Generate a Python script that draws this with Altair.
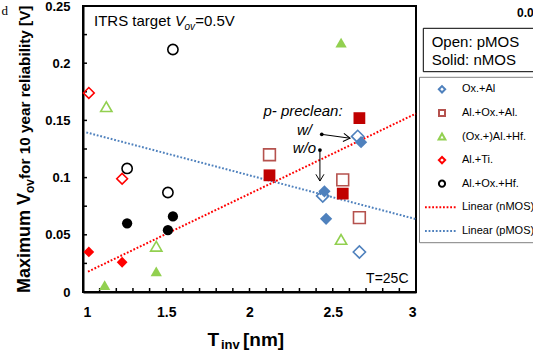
import altair as alt
import pandas as pd

FONT = "Liberation Sans"

# ---------------- data ----------------
series_names = ["Ox.+Al", "Al.+Ox.+Al.", "(Ox.+)Al.+Hf.", "Al.+Ti.", "Al.+Ox.+Hf."]
series_shapes = ["diamond", "square", "triangle-up", "diamond", "circle"]
open_colors = ["#4f81bd", "#b5524e", "#92d050", "#ff0000", "#000000"]
solid_colors = ["#4f81bd", "#c00000", "#92d050", "#ff0000", "#000000"]
series_sizes = [150, 105, 160, 150, 125]

# pMOS (open markers)
pmos_series = ["Ox.+Al", "Ox.+Al", "Ox.+Al",
               "Al.+Ox.+Al.", "Al.+Ox.+Al.", "Al.+Ox.+Al.",
               "(Ox.+)Al.+Hf.", "(Ox.+)Al.+Hf.", "(Ox.+)Al.+Hf.",
               "Al.+Ti.", "Al.+Ti.",
               "Al.+Ox.+Hf.", "Al.+Ox.+Hf.", "Al.+Ox.+Hf."]
pmos_tinv = [2.65, 2.44, 2.66, 2.12, 2.56, 2.66, 1.14, 1.44, 2.55, 1.035, 1.235, 1.54, 1.265, 1.51]
pmos_vov = [0.136, 0.084, 0.035, 0.120, 0.098, 0.065, 0.162, 0.040, 0.046, 0.174, 0.099, 0.212, 0.108, 0.087]

# nMOS (solid markers)
nmos_series = ["Ox.+Al", "Ox.+Al", "Ox.+Al",
               "Al.+Ox.+Al.", "Al.+Ox.+Al.", "Al.+Ox.+Al.",
               "(Ox.+)Al.+Hf.", "(Ox.+)Al.+Hf.", "(Ox.+)Al.+Hf.",
               "Al.+Ti.", "Al.+Ti.",
               "Al.+Ox.+Hf.", "Al.+Ox.+Hf.", "Al.+Ox.+Hf."]
nmos_tinv = [2.67, 2.45, 2.46, 2.12, 2.56, 2.66, 2.55, 1.44, 1.13, 1.035, 1.235, 1.265, 1.54, 1.51]
nmos_vov = [0.131, 0.088, 0.064, 0.102, 0.086, 0.152, 0.218, 0.018, 0.006, 0.035, 0.026, 0.060, 0.066, 0.054]

# linear trend lines (end points)
trend_n_tinv = [1.03, 3.0]
trend_n_vov = [0.0178, 0.156]
trend_p_tinv = [1.02, 3.0]
trend_p_vov = [0.1395, 0.0637]

# annotation arrows (p- preclean w/ and w/o)
arrow_tinv = [2.434, 2.423]
arrow_vov = [0.1378, 0.1241]
arrow_tinv2 = [2.604, 2.423]
arrow_vov2 = [0.1344, 0.0970]
arrow_angle = [7, 90]

# axis ticks and labels
x_tick_values = [1.0, 1.1, 1.2, 1.3, 1.4, 1.5, 1.6, 1.7, 1.8, 1.9, 2.0,
                 2.1, 2.2, 2.3, 2.4, 2.5, 2.6, 2.7, 2.8, 2.9, 3.0]
x_label_values = [1, 1.5, 2, 2.5, 3]
y_tick_values = [0, 0.025, 0.05, 0.075, 0.1, 0.125, 0.15, 0.175, 0.2, 0.225, 0.25]
y_label_values = [0, 0.05, 0.1, 0.15, 0.2, 0.25]

legend_labels = series_names
line_legend_labels = ["Linear (nMOS)", "Linear (pMOS)"]
line_legend_colors = ["#ff0000", "#4f81bd"]

# ---------------- layout ----------------
LEFT, TOP = 83, 6
W, H = 333, 286

xs = alt.Scale(domain=[1, 3], nice=False, zero=False)
ys = alt.Scale(domain=[0, 0.25], nice=False)

x_axis = alt.Axis(values=x_label_values, format="~g", title=None, ticks=False, grid=False,
                  labelFont=FONT, labelFontSize=14, labelFontWeight="bold", labelColor="black",
                  labelPadding=13, domainColor="black", domainWidth=2)
y_axis = alt.Axis(values=y_label_values, format="~g", title=None, ticks=False, grid=False,
                  labelFont=FONT, labelFontSize=13, labelFontWeight="bold", labelColor="black",
                  labelPadding=13, domainColor="black", domainWidth=2)

X = lambda f: alt.X(f + ":Q", scale=xs, axis=x_axis)
Y = lambda f: alt.Y(f + ":Q", scale=ys, axis=y_axis)

shape_enc = alt.Shape("series:N", scale=alt.Scale(domain=series_names, range=series_shapes), legend=None)
size_enc = alt.Size("series:N", scale=alt.Scale(domain=series_names, range=series_sizes), legend=None)

pdf = pd.DataFrame({"series": pmos_series, "tinv": pmos_tinv, "vov": pmos_vov})
ndf = pd.DataFrame({"series": nmos_series, "tinv": nmos_tinv, "vov": nmos_vov})

solid = alt.Chart(ndf).mark_point(filled=True, opacity=1, strokeWidth=0).encode(
    x=X("tinv"), y=Y("vov"), shape=shape_enc, size=size_enc,
    color=alt.Color("series:N", scale=alt.Scale(domain=series_names, range=solid_colors), legend=None),
)
opened = alt.Chart(pdf).mark_point(filled=False, opacity=1, strokeWidth=1.6).encode(
    x=X("tinv"), y=Y("vov"), shape=shape_enc, size=size_enc,
    stroke=alt.Stroke("series:N", scale=alt.Scale(domain=series_names, range=open_colors), legend=None),
)

tn = pd.DataFrame({"tinv": trend_n_tinv, "vov": trend_n_vov})
tp = pd.DataFrame({"tinv": trend_p_tinv, "vov": trend_p_vov})
line_n = alt.Chart(tn).mark_line(color="#ff0000", strokeWidth=2, strokeDash=[1.8, 1.8]).encode(x=X("tinv"), y=Y("vov"))
line_p = alt.Chart(tp).mark_line(color="#4f81bd", strokeWidth=2, strokeDash=[1.8, 1.8]).encode(x=X("tinv"), y=Y("vov"))

xt = pd.DataFrame({"tinv": x_tick_values})
yt = pd.DataFrame({"vov": y_tick_values})
xticks = alt.Chart(xt).mark_rule(color="black", strokeWidth=1.5).encode(
    x=X("tinv"), y=alt.value(H), y2=alt.value(H - 4))
yticks = alt.Chart(yt).mark_rule(color="black", strokeWidth=1.5).encode(
    y=Y("vov"), x=alt.value(0), x2=alt.value(4))

adf = pd.DataFrame({"tinv": arrow_tinv, "vov": arrow_vov, "tinv2": arrow_tinv2,
                    "vov2": arrow_vov2, "ang": arrow_angle})
arrows = alt.Chart(adf).mark_rule(color="black", strokeWidth=1).encode(
    x=X("tinv"), y=Y("vov"), x2="tinv2:Q", y2="vov2:Q")
dots = alt.Chart(adf).mark_circle(color="black", size=14, opacity=1).encode(x=X("tinv"), y=Y("vov"))
heads = alt.Chart(adf).mark_point(shape="M-1,-0.6L0,0L-1,0.6", filled=False, color="black",
                                  strokeWidth=1, size=180, opacity=1).encode(
    x=alt.X("tinv2:Q", scale=xs, axis=x_axis), y=alt.Y("vov2:Q", scale=ys, axis=y_axis),
    angle=alt.Angle("ang:Q", scale=None))

one = pd.DataFrame({"d": [0]})


def txt(s, px, py, size, weight="normal", style="normal", align="left",
        baseline="alphabetic", angle=0, font=FONT, color="black"):
    mk = dict(text=s, fontSize=size, fontWeight=weight, fontStyle=style, align=align,
              baseline=baseline, font=font, color=color)
    if angle:
        mk["angle"] = angle
    return alt.Chart(one).mark_text(**mk).encode(x=alt.value(px - LEFT), y=alt.value(py - TOP))


def rect(x1, y1, x2, y2, stroke):
    return alt.Chart(one).mark_rect(fill="white", stroke=stroke, strokeWidth=1).encode(
        x=alt.value(x1 - LEFT), x2=alt.value(x2 - LEFT), y=alt.value(y1 - TOP), y2=alt.value(y2 - TOP))


texts = [
    # ITRS target
    txt("ITRS target ", 94, 25.7, 15),
    txt("V", 174.9, 25.7, 15, style="italic"),
    txt("ov", 184.5, 29.5, 10, style="italic"),
    txt("=0.5V", 195.2, 25.7, 15),
    # T=25C
    txt("T=25C", 408.5, 283.3, 14, align="right"),
    # annotation
    txt("p- preclean:", 303, 116, 15, style="italic", align="center"),
    txt("w/", 304.5, 134.5, 15, style="italic", align="center"),
    txt("w/o", 304.5, 152.5, 15, style="italic", align="center"),
    # x title
    txt("T", 207.5, 346, 19, weight="bold"),
    txt("inv", 221, 349, 13, weight="bold"),
    txt("[nm]", 243, 346, 19, weight="bold"),
    # y title (rotated)
    txt("Maximum V", 29.5, 293, 18, weight="bold", angle=270),
    txt("ov", 33.5, 193, 12, weight="bold", angle=270),
    txt(" for 10 year reliability [V]", 29.5, 179, 15.3, weight="bold", angle=270),
    # cropped neighbours
    txt("d", 8, 15, 13, font="Liberation Serif", align="right"),
    txt("0.05", 517, 17, 12, weight="bold"),
]

legend_layers = [
    rect(423.3, 28.3, 600, 71.7, "black"),
    txt("Open: pMOS", 431.7, 47, 15),
    txt("Solid: nMOS", 431.7, 65, 15),
    rect(419.5, 77.3, 600, 242.7, "#808080"),
]
leg_step = 23.6
leg_y0 = 89.3
leg_sizes = [40, 36, 45, 40, 38]
for i, lab in enumerate(legend_labels):
    yy = leg_y0 + i * leg_step
    legend_layers.append(
        alt.Chart(one).mark_point(shape=series_shapes[i], filled=False, color=open_colors[i],
                                  strokeWidth=2, size=leg_sizes[i], opacity=1).encode(
            x=alt.value(442 - LEFT), y=alt.value(yy - TOP)))
    legend_layers.append(txt(lab, 462, yy, 11, baseline="middle"))
for j, lab in enumerate(line_legend_labels):
    yy = leg_y0 + (len(legend_labels) + j) * leg_step
    legend_layers.append(
        alt.Chart(one).mark_rule(color=line_legend_colors[j], strokeWidth=2, strokeDash=[1.8, 1.8]).encode(
            x=alt.value(425 - LEFT), x2=alt.value(457 - LEFT), y=alt.value(yy - TOP)))
    legend_layers.append(txt(lab, 462, yy, 11, baseline="middle"))

chart = alt.layer(
    line_p, line_n, xticks, yticks, solid, opened, arrows, heads, dots, *texts, *legend_layers
).resolve_scale(color="independent", stroke="independent").properties(
    width=W, height=H,
    autosize=alt.AutoSizeParams(type="none"),
    padding={"left": LEFT, "top": TOP, "right": 533 - LEFT - W, "bottom": 350 - TOP - H},
    background="white",
).configure_view(stroke="black", strokeWidth=2)

chart.save("out.html", embed_options={"renderer": "svg", "actions": False})
